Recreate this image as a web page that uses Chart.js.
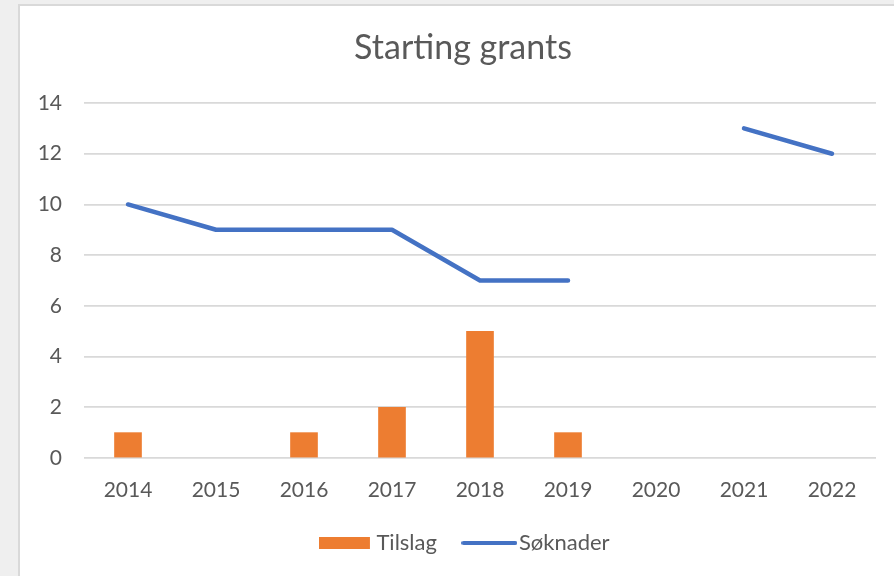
<!DOCTYPE html>
<html>
<head>
<meta charset="utf-8">
<script src="https://cdn.jsdelivr.net/npm/chart.js@4/dist/chart.umd.min.js"></script>
<style>
  html, body { margin: 0; padding: 0; background: #efefef; }
  #wrap { position: absolute; left: 0; top: 0; width: 894px; height: 576px; }
</style>
</head>
<body>
<div id="wrap"><canvas id="c" width="894" height="576"></canvas></div>
<script>
const categories = ['2014', '2015', '2016', '2017', '2018', '2019', '2020', '2021', '2022'];
const tilslag = [1, null, 1, 2, 5, 1, null, null, null];
const soknader = [10, 9, 9, 9, 7, 7, null, 13, 12];
const yTicks = [0, 2, 4, 6, 8, 10, 12, 14];

const ORANGE = '#ED7D31';
const BLUE = '#4472C4';
const TEXT = '#595959';
const FONT = 'Lato, "Noto Sans", sans-serif';

function makeBarIcon() {
  const c = document.createElement('canvas');
  c.width = 56; c.height = 12;
  const x = c.getContext('2d');
  x.fillStyle = ORANGE;
  x.fillRect(0, 0, 51, 12);
  return c;
}
function makeLineIcon() {
  const c = document.createElement('canvas');
  c.width = 56; c.height = 6;
  const x = c.getContext('2d');
  x.strokeStyle = BLUE;
  x.lineWidth = 4;
  x.lineCap = 'round';
  x.beginPath(); x.moveTo(2, 3); x.lineTo(54, 3); x.stroke();
  return c;
}
const barIcon = makeBarIcon();
const lineIcon = makeLineIcon();

const panelPlugin = {
  id: 'panel',
  beforeDraw(chart) {
    const ctx = chart.ctx;
    ctx.save();
    ctx.fillStyle = '#efefef';
    ctx.fillRect(0, 0, chart.width, chart.height);
    ctx.fillStyle = '#ffffff';
    ctx.fillRect(19, 5, chart.width - 19, chart.height - 5);
    ctx.strokeStyle = '#d9d9d9';
    ctx.lineWidth = 2;
    ctx.beginPath();
    ctx.moveTo(19, chart.height);
    ctx.lineTo(19, 5);
    ctx.lineTo(chart.width, 5);
    ctx.stroke();
    ctx.restore();
  }
};

const legendShift = {
  id: 'legendShift',
  afterLayout(chart) {
    if (chart.legend) {
      chart.legend.left += 6;
      chart.legend.right += 6;
    }
  }
};

new Chart(document.getElementById('c'), {
  data: {
    labels: categories,
    datasets: [
      {
        type: 'line',
        label: 'Søknader',
        data: soknader,
        borderColor: BLUE,
        backgroundColor: BLUE,
        borderWidth: 4.5,
        borderCapStyle: 'round',
        borderJoinStyle: 'round',
        pointRadius: 0,
        tension: 0,
        spanGaps: false,
        order: 0
      },
      {
        type: 'bar',
        label: 'Tilslag',
        data: tilslag,
        backgroundColor: ORANGE,
        borderWidth: 0,
        barThickness: 27,
        order: 1
      }
    ]
  },
  options: {
    responsive: false,
    animation: false,
    devicePixelRatio: 1,
    layout: { padding: { left: 50, right: 18, top: 0, bottom: 12 } },
    plugins: {
      title: {
        display: true,
        text: 'Starting grants',
        color: TEXT,
        font: { family: FONT, size: 34, weight: 'normal' },
        padding: { top: 27.6, bottom: 34.6 }
      },
      legend: {
        position: 'bottom',
        labels: {
          color: TEXT,
          font: { family: FONT, size: 22 },
          usePointStyle: true,
          pointStyleWidth: 37,
          padding: 34,
          sort: (a, b) => (a.text === 'Tilslag' ? -1 : 1),
          generateLabels(chart) {
            const items = Chart.defaults.plugins.legend.labels.generateLabels(chart);
            items.forEach(it => {
              it.pointStyle = it.text === 'Tilslag' ? barIcon : lineIcon;
              it.fontColor = TEXT;
            });
            return items;
          }
        }
      },
      tooltip: { enabled: false }
    },
    scales: {
      x: {
        offset: true,
        grid: { display: false, drawTicks: false },
        border: { display: false },
        ticks: { color: TEXT, font: { family: FONT, size: 21 }, padding: 20, maxRotation: 0 },
        afterFit(s) { s.height = 40; }
      },
      y: {
        min: 0,
        max: 14,
        afterBuildTicks(s) { s.ticks = yTicks.map(v => ({ value: v })); },
        grid: { color: '#d9d9d9', lineWidth: 1.8, drawTicks: false },
        border: { display: false },
        ticks: { color: TEXT, font: { family: FONT, size: 21 }, padding: 22 },
        afterFit(s) { s.width = 34; s._computeLabelArea = () => undefined; }
      }
    }
  },
  plugins: [panelPlugin, legendShift]
});
</script>
</body>
</html>
